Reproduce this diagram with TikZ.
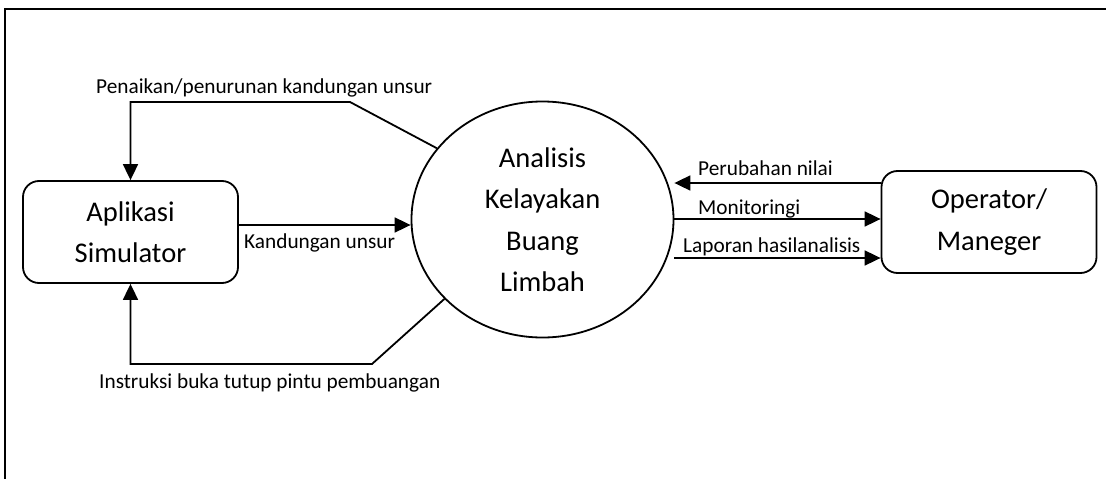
\documentclass[tikz,border=0pt]{standalone}
\usepackage{fontspec}
\setmainfont{Carlito}
\usetikzlibrary{shapes.geometric,arrows.meta}

\tikzset{
  entity/.style={draw, line width=1.8pt, rounded corners=16pt, inner sep=0pt,
    minimum width=215pt, minimum height=102pt, align=center,
    font=\fontsize{28.5}{41.5}\selectfont},
  process/.style={draw, ellipse, line width=1.8pt, inner sep=0pt,
    minimum width=262pt, minimum height=236pt, align=center,
    font=\fontsize{28.5}{41.5}\selectfont},
  flow/.style={line width=1.8pt, line join=miter,
    -{Triangle[length=16pt,width=15pt]}},
  lbl/.style={anchor=base west, inner sep=0pt, font=\fontsize{21.3}{25}\selectfont},
}

\begin{document}
\begin{tikzpicture}[x=1pt,y=-1pt]
\useasboundingbox (0,0) rectangle (1106,479);

% outer frame (open at right and bottom)
\draw[line width=2.4pt] (5,479) -- (5,9) -- (1106,9);

% entities and process
\node[entity] (sim) at (130.5,232) {Aplikasi\\Simulator};
\node[entity] (opr) at (989,222) {Operator/\\Maneger};
\node[process] (ell) at (542.5,219.5) {Analisis\\Kelayakan\\Buang\\Limbah};

% feedback flows between the process and the simulator
\coordinate (tb) at (350,102);
\coordinate (bb) at (372,364);
\draw[flow] (ell.146) -- (tb) -- (tb -| sim.north) -- (sim.north);
\draw[flow] (ell.219.7) -- (bb) -- (bb -| sim.south) -- (sim.south);
\draw[flow] ([yshift=7pt]sim.east) -- ([yshift=7pt]sim.east -| ell.west);

% flows between the process and the operator
\draw[flow] ([yshift=39pt]opr.west) -- ([yshift=39pt]opr.west -| ell.east);
\draw[flow] ([yshift=0.5pt]ell.east) -- ([yshift=0.5pt]ell.east -| opr.west);
\draw[flow] ([yshift=-36pt]opr.west -| ell.east) -- ([yshift=-36pt]opr.west);

% flow labels
\node[lbl] (l1) at (96,93) {Penaikan/penurunan kandungan unsur};
\node[lbl] (l2) at (99,388) {Instruksi buka tutup pintu pembuangan};
\node[lbl] (l3) at (244,248) {Kandungan unsur};
\node[lbl] (l4) at (698,175) {Perubahan nilai};
\node[lbl] (l5) at (698,214) {Monitoringi};
\node[lbl] (l6) at (683,252) {Laporan hasilanalisis};
\end{tikzpicture}
\end{document}
